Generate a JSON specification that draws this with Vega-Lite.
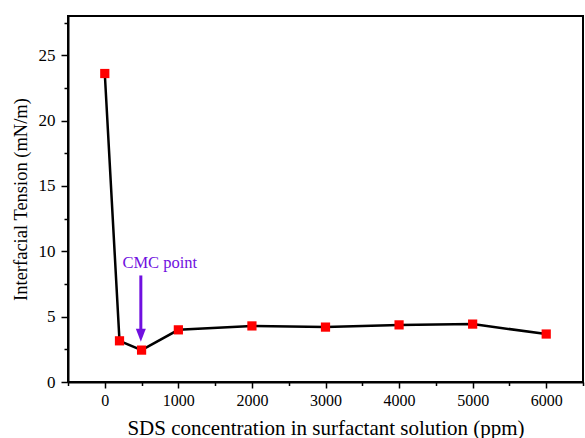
{
  "$schema": "https://vega.github.io/schema/vega-lite/v6.json",
  "width": 515,
  "height": 366,
  "autosize": "none",
  "padding": {"left": 68, "top": 16, "right": 2, "bottom": 56},
  "background": "white",
  "config": {
    "view": {"stroke": "black", "strokeWidth": 2},
    "font": "Liberation Serif",
    "axis": {"grid": false, "domainColor": "black", "domainWidth": 2, "tickColor": "black", "tickWidth": 1.5, "labelColor": "black", "titleColor": "black", "labelFont": "Liberation Serif", "titleFont": "Liberation Serif", "titleFontWeight": "normal"}
  },
  "datasets": {
    "ift": [
      {"ppm": 0, "ift": 23.6},
      {"ppm": 200, "ift": 3.15},
      {"ppm": 500, "ift": 2.44},
      {"ppm": 1000, "ift": 3.99},
      {"ppm": 2000, "ift": 4.29},
      {"ppm": 3000, "ift": 4.2},
      {"ppm": 4000, "ift": 4.37},
      {"ppm": 5000, "ift": 4.43},
      {"ppm": 6000, "ift": 3.67}
    ],
    "note": [{"ppm": 747, "ift": 8.7, "label": "CMC point"}],
    "arrow": [{"ppm": 490, "top": 8.15, "bottom": 4.0, "tip": 3.58}]
  },
  "resolve": {"axis": {"x": "independent", "y": "independent"}},
  "layer": [
    {
      "data": {"name": "ift"},
      "mark": {"type": "line", "color": "black", "strokeWidth": 2.5},
      "encoding": {
        "x": {"field": "ppm", "type": "quantitative", "scale": {"domain": [-500, 6500], "nice": false, "zero": false},
          "axis": {"orient": "bottom", "values": [0, 1000, 2000, 3000, 4000, 5000, 6000], "format": "d", "tickSize": 6, "labelFontSize": 16, "labelPadding": 4, "title": "SDS concentration in surfactant solution (ppm)", "titleFontSize": 21, "titlePadding": 9}},
        "y": {"field": "ift", "type": "quantitative", "scale": {"domain": [0, 28], "nice": false},
          "axis": {"orient": "left", "values": [0, 5, 10, 15, 20, 25], "tickSize": 7, "labelFontSize": 17, "labelPadding": 6, "title": "Interfacial Tension (mN/m)", "titleFontSize": 18.5, "titlePadding": 8}}
      }
    },
    {
      "data": {"name": "ift"},
      "mark": {"type": "point", "shape": "square", "filled": true, "color": "#ff0000", "opacity": 1, "size": 85},
      "encoding": {
        "x": {"field": "ppm", "type": "quantitative", "axis": {"orient": "bottom", "values": [-500, 500, 1500, 2500, 3500, 4500, 5500, 6500], "tickSize": 3.5, "labels": false, "domain": false, "title": null}},
        "y": {"field": "ift", "type": "quantitative", "axis": {"orient": "left", "values": [2.5, 7.5, 12.5, 17.5, 22.5, 27.5], "tickSize": 4, "labels": false, "domain": false, "title": null}}
      }
    },
    {
      "data": {"name": "note"},
      "mark": {"type": "text", "color": "#7010e0", "fontSize": 16.5, "font": "Liberation Serif", "align": "center", "baseline": "alphabetic"},
      "encoding": {
        "x": {"field": "ppm", "type": "quantitative", "axis": null},
        "y": {"field": "ift", "type": "quantitative", "axis": null},
        "text": {"field": "label"}
      }
    },
    {
      "data": {"name": "arrow"},
      "mark": {"type": "rule", "color": "#7010e0", "strokeWidth": 3},
      "encoding": {
        "x": {"field": "ppm", "type": "quantitative", "axis": null},
        "y": {"field": "top", "type": "quantitative", "axis": null},
        "y2": {"field": "bottom"}
      }
    },
    {
      "data": {"name": "arrow"},
      "mark": {"type": "point", "shape": "M-0.5,-0.65L0.5,-0.65L0,0.65Z", "filled": true, "color": "#7010e0", "opacity": 1, "size": 400},
      "encoding": {
        "x": {"field": "ppm", "type": "quantitative", "axis": null},
        "y": {"field": "tip", "type": "quantitative", "axis": null}
      }
    }
  ]
}
